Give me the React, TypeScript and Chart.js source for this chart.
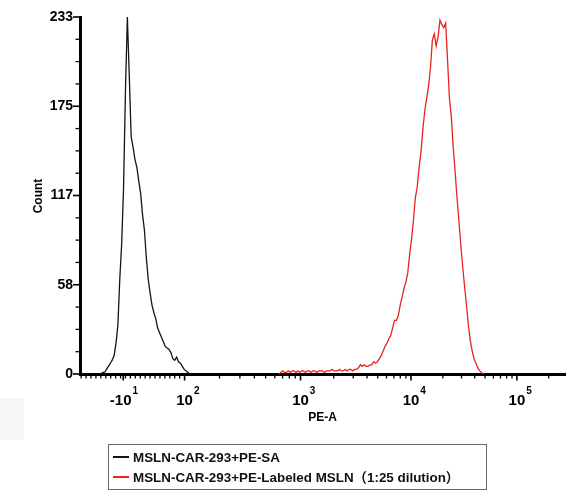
import React, { useEffect, useRef } from 'react';
import { Chart, registerables } from 'chart.js';

Chart.register(...registerables);

// Histogram channels (256-channel display scale)
const BIN_COUNT = 256;

// Black: MSLN-CAR-293+PE-SA, counts per channel starting at BLACK_FIRST_CHANNEL
const BLACK_FIRST_CHANNEL = 11;
const BLACK_COUNTS = [
  0, 1, 1, 3, 5, 7, 9, 12, 20, 32, 62, 85, 122, 185, 233, 195, 155, 148, 140, 135,
  126, 118, 104, 94, 76, 62, 53, 45, 40, 36, 30, 27, 24, 21, 18, 17, 16, 14, 10, 9,
  11, 8, 7, 5, 3, 2, 1, 0,
];

// Red: MSLN-CAR-293+PE-Labeled MSLN (1:25 dilution)
const RED_FIRST_CHANNEL = 105;
const RED_COUNTS = [
  0,
  1, 2, 1, 1, 2, 1, 2, 2, 1, 2, 1, 2, 2, 1, 2, 2, 1, 2, 2, 1,
  2, 2, 2, 1, 2, 2, 2, 3, 2, 2, 2, 3, 2, 2, 3, 2, 3, 3, 2, 3,
  3, 4, 6, 5, 6, 5, 5, 6, 6, 8, 7, 8, 10, 12, 15, 18, 20, 23, 25, 30,
  35, 35, 38, 45, 50, 56, 60, 66, 78, 88, 100, 115, 122, 135, 145, 160, 172, 180, 188, 200,
  218, 222, 214, 220, 231, 228, 226, 229, 205, 180, 168, 148, 132, 115, 100, 84, 70, 57, 45, 32,
  22, 15, 10, 7, 4, 2, 1, 0,
];

// X axis decade ticks (channel positions of -10^1, 10^2 ... 10^5)
const X_TICK_CHANNELS = [22.8, 55.2, 116.4, 174.7, 230.6];
const X_TICK_BASES = ['-10', '10', '10', '10', '10'];
const X_TICK_EXPONENTS = ['1', '2', '3', '4', '5'];

// Y axis ticks
const Y_MAX = 233;
const Y_TICK_VALUES = [0, 58.25, 116.5, 174.75, 233];
const Y_TICK_LABELS = ['0', '58', '117', '175', '233'];
const Y_MINOR_DIVISIONS = 16;

const X_TITLE = 'PE-A';
const Y_TITLE = 'Count';
const LEGEND_LABELS = [
  'MSLN-CAR-293+PE-SA',
  'MSLN-CAR-293+PE-Labeled MSLN（1:25 dilution）',
];
const SERIES_COLORS = ['#151515', '#e8241e'];

const FONT = '"Liberation Sans", Arial, "Noto Sans CJK SC", sans-serif';

export default function App() {
  const ref = useRef<HTMLCanvasElement>(null);

  useEffect(() => {
    const canvas = ref.current;
    if (!canvas) return;

    const black = BLACK_COUNTS.map((y, i) => ({ x: BLACK_FIRST_CHANNEL + i, y }));
    const red = RED_COUNTS.map((y, i) => ({ x: RED_FIRST_CHANNEL + i, y }));

    const decor = {
      id: 'decor',
      beforeDraw(chart: any) {
        const ctx = chart.ctx;
        ctx.save();
        ctx.fillStyle = '#ffffff';
        ctx.fillRect(0, 0, chart.width, chart.height);
        ctx.fillStyle = '#f6f6f6';
        ctx.fillRect(0, 398, 24, 42);
        ctx.restore();
      },
      afterDraw(chart: any) {
        const ctx = chart.ctx;
        const xs = chart.scales.x;
        const ys = chart.scales.y;
        const area = chart.chartArea;
        ctx.save();
        ctx.strokeStyle = '#000';
        ctx.fillStyle = '#000';

        // X ticks
        const tick = (ch: number, len: number, w: number) => {
          const px = xs.getPixelForValue(ch);
          if (px < area.left || px > area.right + 0.5) return;
          ctx.lineWidth = w;
          ctx.beginPath();
          ctx.moveTo(px, area.bottom + 1);
          ctx.lineTo(px, area.bottom + 1.5 + len);
          ctx.stroke();
        };
        X_TICK_CHANNELS.forEach((ch) => tick(ch, 5, 1.6));
        for (let i = 1; i < X_TICK_CHANNELS.length; i++) {
          const a = X_TICK_CHANNELS[i];
          const b = i + 1 < X_TICK_CHANNELS.length ? X_TICK_CHANNELS[i + 1] : a + (a - X_TICK_CHANNELS[i - 1]);
          for (let m = 2; m <= 9; m++) tick(a + (b - a) * Math.log10(m), 3, 1.3);
        }
        for (let ch = X_TICK_CHANNELS[1] - 2.6; ch > 0.5; ch -= 2.6) tick(ch, 3, 1.3);

        // X tick labels
        X_TICK_CHANNELS.forEach((ch, i) => {
          const px = xs.getPixelForValue(ch);
          ctx.font = `bold 15px ${FONT}`;
          ctx.textBaseline = 'alphabetic';
          const w = ctx.measureText('10').width;
          ctx.textAlign = 'center';
          ctx.fillText('10', px, 405);
          if (X_TICK_BASES[i].startsWith('-')) {
            ctx.textAlign = 'right';
            ctx.fillText('-', px - w / 2, 405);
          }
          ctx.font = `bold 10px ${FONT}`;
          ctx.textAlign = 'left';
          ctx.fillText(X_TICK_EXPONENTS[i], px + w / 2 + 1, 394);
        });

        // X title
        ctx.font = `bold 12px ${FONT}`;
        ctx.textAlign = 'center';
        ctx.textBaseline = 'alphabetic';
        ctx.fillText(X_TITLE, (area.left + area.right) / 2, 421);

        // Y ticks
        for (let k = 0; k <= Y_MINOR_DIVISIONS; k++) {
          const py = ys.getPixelForValue((k * Y_MAX) / Y_MINOR_DIVISIONS);
          const major = k % 4 === 0;
          ctx.lineWidth = major ? 1.6 : 1.3;
          ctx.beginPath();
          ctx.moveTo(area.left - 1, py);
          ctx.lineTo(area.left - (major ? 7 : 4.5), py);
          ctx.stroke();
        }

        // Y title
        ctx.save();
        ctx.translate(39, 196);
        ctx.rotate(-Math.PI / 2);
        ctx.font = `bold 12px ${FONT}`;
        ctx.textAlign = 'center';
        ctx.textBaseline = 'middle';
        ctx.fillText(Y_TITLE, 0, 0);
        ctx.restore();

        // Legend
        ctx.lineWidth = 1;
        ctx.strokeStyle = '#666';
        ctx.strokeRect(108.5, 444.5, 378, 45);
        LEGEND_LABELS.forEach((label, i) => {
          const ly = 457 + i * 20;
          ctx.strokeStyle = SERIES_COLORS[i];
          ctx.lineWidth = 2;
          ctx.beginPath();
          ctx.moveTo(113, ly);
          ctx.lineTo(129, ly);
          ctx.stroke();
          ctx.fillStyle = '#111';
          ctx.font = `bold 13.4px ${FONT}`;
          ctx.textAlign = 'left';
          ctx.textBaseline = 'middle';
          ctx.fillText(label, 133, ly + 1);
        });
        ctx.restore();
      },
    };

    const chart = new Chart(canvas, {
      type: 'line',
      data: {
        datasets: [
          {
            label: LEGEND_LABELS[0],
            data: black,
            borderColor: SERIES_COLORS[0],
            borderWidth: 1.3,
            pointRadius: 0,
            fill: false,
            clip: false,
          } as any,
          {
            label: LEGEND_LABELS[1],
            data: red,
            borderColor: SERIES_COLORS[1],
            borderWidth: 1.3,
            pointRadius: 0,
            fill: false,
            clip: false,
          } as any,
        ],
      },
      options: {
        responsive: false,
        animation: false,
        events: [],
        layout: { padding: { top: 17, right: 17, left: 0, bottom: 0 } },
        plugins: { legend: { display: false }, tooltip: { enabled: false } },
        scales: {
          x: {
            type: 'linear',
            min: 0,
            max: BIN_COUNT,
            grid: { display: false, drawTicks: false },
            border: { display: true, color: '#000', width: 3 },
            ticks: { display: false },
            afterFit: (s: any) => {
              s.height = 128;
            },
          },
          y: {
            type: 'linear',
            min: 0,
            max: Y_MAX,
            afterBuildTicks: (s: any) => {
              s.ticks = Y_TICK_VALUES.map((v) => ({ value: v }));
            },
            ticks: {
              callback: (_v: any, i: number) => Y_TICK_LABELS[i],
              font: { family: FONT, weight: 'bold', size: 14 },
              color: '#000',
              padding: 7,
              autoSkip: false,
            },
            grid: { display: false, drawTicks: false },
            border: { display: true, color: '#000', width: 3 },
            afterFit: (s: any) => {
              s.width = 80;
            },
          },
        },
      } as any,
      plugins: [decor],
    });

    return () => chart.destroy();
  }, []);

  return (
    <div style={{ position: 'absolute', left: 0, top: 0, width: 582, height: 502 }}>
      <canvas ref={ref} width={582} height={502} style={{ display: 'block' }} />
    </div>
  );
}
